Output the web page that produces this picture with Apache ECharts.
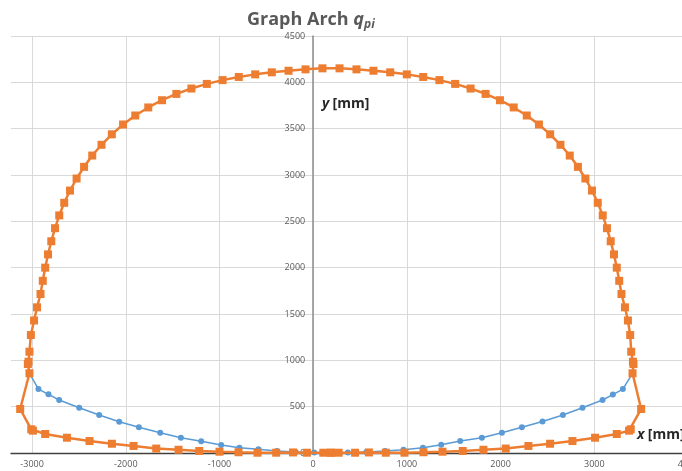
<!DOCTYPE html>
<html>
<head>
<meta charset="utf-8">
<script src="https://cdn.jsdelivr.net/npm/echarts@6/dist/echarts.min.js"></script>
<style>
  html, body { margin: 0; padding: 0; background: #ffffff; }
  #chart { width: 682px; height: 471px; }
</style>
</head>
<body>
<div id="chart"></div>
<script>
// Axis ranges [mm]
const xRange = [-3225, 4000];
const yRange = [0, 4500];
const yStep = 500;

// Loaded arch contour q_pi (closed loop, starting at the invert centre, running anticlockwise)
const archX = [
  190, 272, 447, 595, 775, 974, 1177, 1380, 1596, 1817, 2055, 2297, 2528, 2767, 3008, 3240, 3371, 3389,
  3500, 3408, 3418, 3412, 3394, 3383, 3359, 3327, 3290, 3266, 3240, 3210, 3175, 3135, 3090, 3037,
  2975, 2905, 2825, 2738, 2639, 2529, 2409, 2279, 2140, 1993, 1840, 1680, 1515, 1347, 1174, 999,
  822, 643, 462, 281,
  99, -82, -263, -442, -619, -794, -967, -1135, -1300, -1460, -1613, -1760, -1899, -2029, -2149,
  -2259, -2358, -2445, -2525, -2595, -2657, -2710, -2755, -2795, -2830, -2860, -2886, -2910, -2947,
  -2979, -3013, -3028, -3038, -3045, -3028, -3127,
  -3009, -2991, -2860, -2628, -2387, -2148, -1917, -1675, -1437, -1216, -1000, -797, -594, -395, -215, -67, 108, 190
];
const archY = [
  3, 3, 3, 6, 3, 3, 8, 14, 22, 35, 48, 76, 100, 129, 165, 205, 241, 256,
  475, 860, 960, 985, 1093, 1273, 1430, 1572, 1716, 1858, 2000, 2143, 2285, 2426, 2564, 2700,
  2832, 2962, 3088, 3210, 3326, 3439, 3545, 3642, 3729, 3807, 3875, 3933, 3983, 4024, 4058, 4086,
  4108, 4125, 4140, 4151,
  4151, 4140, 4125, 4108, 4086, 4058, 4024, 3983, 3933, 3875, 3807, 3729, 3642, 3545, 3439,
  3326, 3210, 3088, 2962, 2832, 2700, 2564, 2426, 2285, 2143, 2000, 1858, 1716, 1572,
  1430, 1273, 1093, 985, 960, 860, 475,
  256, 241, 205, 165, 129, 100, 76, 48, 35, 22, 14, 8, 3, 3, 6, 3, 3, 3
];

// Invert line between the two springing points
const invertX = [
  -3028, -2932, -2825, -2711, -2497, -2284, -2070, -1860, -1633, -1412, -1195, -982, -787, -584, -387,
  -187, 10, 190, 370, 567, 767, 964, 1171, 1366, 1569, 1800, 2014, 2227, 2447, 2665, 2874, 3088, 3198, 3305, 3408
];
const invertY = [
  860, 690, 633, 572, 489, 410, 338, 277, 219, 165, 126, 86, 57, 40, 22,
  11, 5, 3, 5, 11, 22, 36, 57, 90, 129, 165, 219, 277, 340, 410, 489, 572, 630, 690, 860
];

const zip = (xs, ys) => xs.map((x, i) => [x, ys[i]]);

const labelFont = { fontFamily: 'Open Sans', fontSize: 9, color: '#595959' };
const plainNumber = (v) => String(v);
const gridLeft = 11;

const chart = echarts.init(document.getElementById('chart'), null, { renderer: 'canvas' });
chart.setOption({
  animation: false,
  backgroundColor: '#ffffff',
  title: {
    text: '{t|Graph Arch }{q|q}{s|pi}',
    left: 242,
    top: 4,
    textStyle: {
      rich: {
        t: { fontFamily: 'Open Sans', fontWeight: 'bold', fontSize: 18, color: '#595959' },
        q: { fontFamily: 'Open Sans', fontWeight: 'bold', fontStyle: 'italic', fontSize: 18, color: '#595959' },
        s: { fontFamily: 'Open Sans', fontWeight: 'bold', fontStyle: 'italic', fontSize: 12, color: '#595959', verticalAlign: 'bottom', padding: [10, 0, 0, 0] }
      }
    }
  },
  grid: { left: gridLeft, right: -6, top: 36, bottom: 18, containLabel: false, outerBoundsMode: 'none' },
  xAxis: {
    type: 'value',
    min: xRange[0],
    max: xRange[1],
    splitNumber: 7,
    axisLine: { onZero: true, lineStyle: { color: '#404040', width: 1.3 } },
    axisTick: { show: false },
    axisLabel: Object.assign({ margin: 7, showMinLabel: false, showMaxLabel: true, formatter: plainNumber }, labelFont),
    splitLine: { show: true, showMinLine: false, lineStyle: { color: '#d9d9d9', width: 1 } }
  },
  yAxis: {
    type: 'value',
    min: yRange[0],
    max: yRange[1],
    interval: yStep,
    offset: 0,
    axisLine: { onZero: false, lineStyle: { color: '#8c8c8c', width: 1.5 } },
    axisTick: { show: false },
    axisLabel: Object.assign({ margin: 8, formatter: plainNumber }, labelFont),
    splitLine: { show: true, lineStyle: { color: '#d9d9d9', width: 1 } }
  },
  series: [
    {
      name: 'invert',
      type: 'line',
      data: zip(invertX, invertY),
      symbol: 'circle',
      symbolSize: 6,
      itemStyle: { color: '#5b9bd5' },
      lineStyle: { color: '#5b9bd5', width: 1.5 },
      z: 2
    },
    {
      name: 'q_pi',
      type: 'line',
      data: zip(archX, archY),
      symbol: 'rect',
      symbolSize: 8,
      itemStyle: { color: '#ed7d31' },
      lineStyle: { color: '#ed7d31', width: 2.5 },
      z: 3
    }
  ],
  graphic: [
    {
      type: 'text',
      left: 322,
      top: 97,
      style: {
        text: '{i|y} {b|[mm]}',
        rich: {
          i: { fontFamily: 'Open Sans', fontWeight: 'bold', fontStyle: 'italic', fontSize: 14, fill: '#262626' },
          b: { fontFamily: 'Open Sans', fontWeight: 'bold', fontSize: 14, fill: '#262626' }
        }
      }
    },
    {
      type: 'text',
      left: 637,
      top: 428,
      style: {
        text: '{i|x} {b|[mm]}',
        rich: {
          i: { fontFamily: 'Open Sans', fontWeight: 'bold', fontStyle: 'italic', fontSize: 14, fill: '#262626' },
          b: { fontFamily: 'Open Sans', fontWeight: 'bold', fontSize: 14, fill: '#262626' }
        }
      }
    }
  ]
});

// Move the vertical axis (line and labels) onto x = 0
const zeroPx = chart.convertToPixel({ xAxisIndex: 0 }, 0);
chart.setOption({ yAxis: { offset: -(zeroPx - gridLeft) } });
</script>
</body>
</html>
